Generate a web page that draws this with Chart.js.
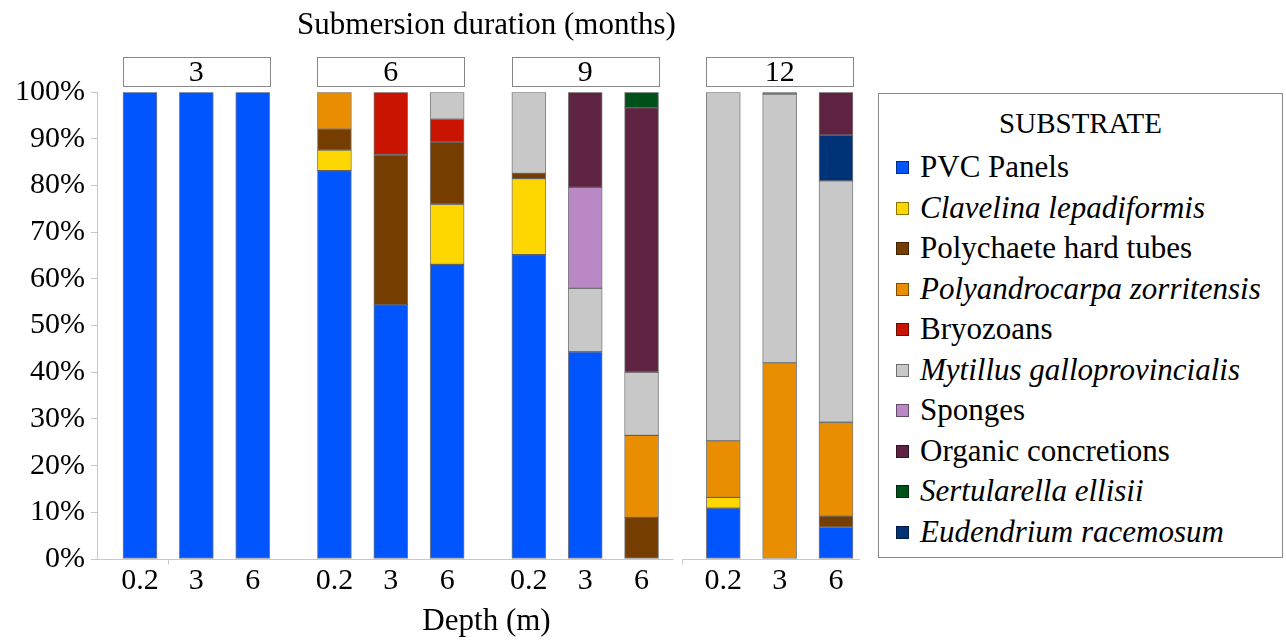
<!DOCTYPE html>
<html>
<head>
<meta charset="utf-8">
<script src="https://cdn.jsdelivr.net/npm/chart.js@4.4.1/dist/chart.umd.min.js"></script>
<style>
  body { margin: 0; background: #fff; }
  #wrap { position: relative; width: 1286px; height: 640px; }
  #legend {
    position: absolute; left: 878px; top: 93px; width: 403px; height: 463px;
    border: 1px solid #888; background: #fff;
    font-family: 'Liberation Serif', serif; font-size: 31px; color: #000;
  }
  #legend .head { height: 48px; padding-top: 5px; line-height: 48px; text-align: center; font-size: 29px; }
  #legend .item { position: relative; height: 40.5px; line-height: 40.5px; padding-left: 41px; white-space: nowrap; }
  #legend .box { position: absolute; left: 17px; top: 14px; width: 11px; height: 11px; border: 1px solid rgba(0,0,0,0.45); }
</style>
</head>
<body>
<div id="wrap">
  <canvas id="chart" width="1286" height="640"></canvas>
  <div id="legend"></div>
</div>
<script>
// Submersion duration groups and depths
var durations = ['3', '6', '9', '12'];
var depths = ['0.2', '3', '6'];

var substrates = ['PVC Panels', 'Clavelina lepadiformis', 'Polychaete hard tubes', 'Polyandrocarpa zorritensis',
  'Bryozoans', 'Mytillus galloprovincialis', 'Sponges', 'Organic concretions', 'Sertularella ellisii', 'Eudendrium racemosum'];
var italic = [false, true, false, true, false, true, false, false, true, true];
var colors = ['#0055ff', '#ffd700', '#753d00', '#e88e00', '#c81400', '#c8c8c8', '#b988c5', '#5e2340', '#00501a', '#003278'];

// % cover, order: 3m(0.2,3,6), 6m(0.2,3,6), 9m(0.2,3,6), 12m(0.2,3,6)
var pvc          = [100, 100, 100, 83.2, 54.5, 63.1, 65.2, 44.4, 0,    10.9, 0,    6.8];
var clavelina    = [0,   0,   0,   4.4,  0,    12.9, 16.3, 0,    0,    2.3,  0,    0];
var polychaete   = [0,   0,   0,   4.5,  32.1, 13.3, 1.1,  0,    8.9,  0,    0,    2.4];
var polyandro    = [0,   0,   0,   7.9,  0,    0,    0,    0,    17.6, 12.1, 42.0, 20.1];
var bryozoans    = [0,   0,   0,   0,    13.4, 4.9,  0,    0,    0,    0,    0,    0];
var mytillus     = [0,   0,   0,   0,    0,    5.8,  17.4, 13.6, 13.5, 74.7, 57.6, 51.7];
var sponges      = [0,   0,   0,   0,    0,    0,    0,    21.6, 0,    0,    0,    0];
var organic      = [0,   0,   0,   0,    0,    0,    0,    20.4, 56.7, 0,    0,    9.2];
var sertularella = [0,   0,   0,   0,    0,    0,    0,    0,    3.3,  0,    0.4,  0];
var eudendrium   = [0,   0,   0,   0,    0,    0,    0,    0,    0,    0,    0,    9.8];

var series = [pvc, clavelina, polychaete, polyandro, bryozoans, mytillus, sponges, organic, sertularella, eudendrium];
// bottom-to-top stacking differs slightly from legend order
var stackOrder = [0, 1, 2, 3, 4, 5, 6, 9, 7, 8];

var yTicks = [0, 10, 20, 30, 40, 50, 60, 70, 80, 90, 100];

// bar slots: depth index inside group, wider gap between groups
var groupStep = 3.45;
var slots = [];
durations.forEach(function (d, g) {
  depths.forEach(function (p, i) { slots.push(g * groupStep + i); });
});

var datasets = stackOrder.map(function (k) {
  return {
    label: substrates[k],
    data: series[k].map(function (v, i) { return { x: slots[i], y: v > 0 ? v : null }; }),
    backgroundColor: colors[k],
    borderColor: 'rgba(40,40,40,0.6)',
    borderWidth: 1,
    borderSkipped: false,
    barThickness: 34
  };
});

var facetPlugin = {
  id: 'facets',
  afterDraw: function (chart) {
    var ctx = chart.ctx, x = chart.scales.x, area = chart.chartArea;
    ctx.save();
    // facet header boxes
    ctx.font = "30px 'Liberation Serif', serif";
    ctx.textAlign = 'center';
    ctx.textBaseline = 'middle';
    durations.forEach(function (d, g) {
      var l = x.getPixelForValue(g * groupStep) - 17;
      var r = x.getPixelForValue(g * groupStep + 2) + 17;
      ctx.fillStyle = '#fff';
      ctx.fillRect(l, 57, r - l, 29);
      ctx.strokeStyle = '#888';
      ctx.lineWidth = 1;
      ctx.strokeRect(Math.round(l) + 0.5, 57.5, Math.round(r - l), 29);
      ctx.fillStyle = '#000';
      ctx.fillText(d, (l + r) / 2, 73);
    });
    // x axis lines (last panel drawn separately)
    var y0 = Math.round(area.bottom) + 0.5;
    var mid = (x.getPixelForValue(2 * groupStep + 2) + x.getPixelForValue(3 * groupStep)) / 2;
    var tick1 = (x.getPixelForValue(0) + x.getPixelForValue(1)) / 2;
    var endX = x.getPixelForValue(3 * groupStep + 2) + 24;
    ctx.strokeStyle = '#c8c8c8';
    ctx.beginPath();
    ctx.moveTo(area.left, y0); ctx.lineTo(mid - 9, y0);
    ctx.moveTo(mid, y0); ctx.lineTo(endX, y0);
    ctx.moveTo(Math.round(tick1) + 0.5, y0); ctx.lineTo(Math.round(tick1) + 0.5, y0 + 5);
    ctx.moveTo(Math.round(mid) + 0.5, y0); ctx.lineTo(Math.round(mid) + 0.5, y0 + 5);
    ctx.stroke();
    ctx.restore();
  }
};

var ctx = document.getElementById('chart').getContext('2d');
var chart = new Chart(ctx, {
  type: 'bar',
  data: { datasets: datasets },
  options: {
    responsive: false,
    animation: false,
    layout: { padding: { left: 0, right: 410, top: 0, bottom: 0 } },
    plugins: {
      legend: { display: false },
      tooltip: { enabled: false },
      title: {
        display: true,
        fullSize: false,
        text: 'Submersion duration (months)',
        color: '#000',
        font: { family: "'Liberation Serif', serif", size: 31, weight: 'normal' },
        padding: { top: 7, bottom: 48 }
      }
    },
    scales: {
      x: {
        type: 'linear',
        stacked: true,
        offset: false,
        min: -0.763,
        max: 13.06,
        grid: { display: false, drawTicks: false },
        border: { display: false },
        afterBuildTicks: function (s) { s.ticks = slots.map(function (v) { return { value: v }; }); },
        afterFit: function (s) { s.height = 81; },
        ticks: {
          padding: 4,
          color: '#000',
          font: { family: "'Liberation Serif', serif", size: 30 },
          callback: function (v, i) { return depths[i % depths.length]; }
        },
        title: {
          display: true,
          text: 'Depth (m)',
          color: '#000',
          font: { family: "'Liberation Serif', serif", size: 31 },
          padding: { top: 0, bottom: 0 }
        }
      },
      y: {
        stacked: true,
        min: 0,
        max: 100,
        afterBuildTicks: function (s) { s.ticks = yTicks.map(function (v) { return { value: v }; }); },
        afterFit: function (s) { s.width = 97; },
        grid: { drawOnChartArea: false, tickLength: 6, color: '#c8c8c8' },
        border: { color: '#c8c8c8' },
        ticks: {
          padding: 6,
          color: '#000',
          font: { family: "'Liberation Serif', serif", size: 30 },
          callback: function (v) { return v + '%'; }
        }
      }
    }
  },
  plugins: [facetPlugin]
});

// legend in substrate order, italic species names
var legendEl = document.getElementById('legend');
var html = '<div class="head">SUBSTRATE</div>';
substrates.forEach(function (name, k) {
  html += '<div class="item" style="font-style:' + (italic[k] ? 'italic' : 'normal') + '">' +
    '<span class="box" style="background:' + colors[k] + '"></span>' + name + '</div>';
});
legendEl.innerHTML = html;
</script>
</body>
</html>
